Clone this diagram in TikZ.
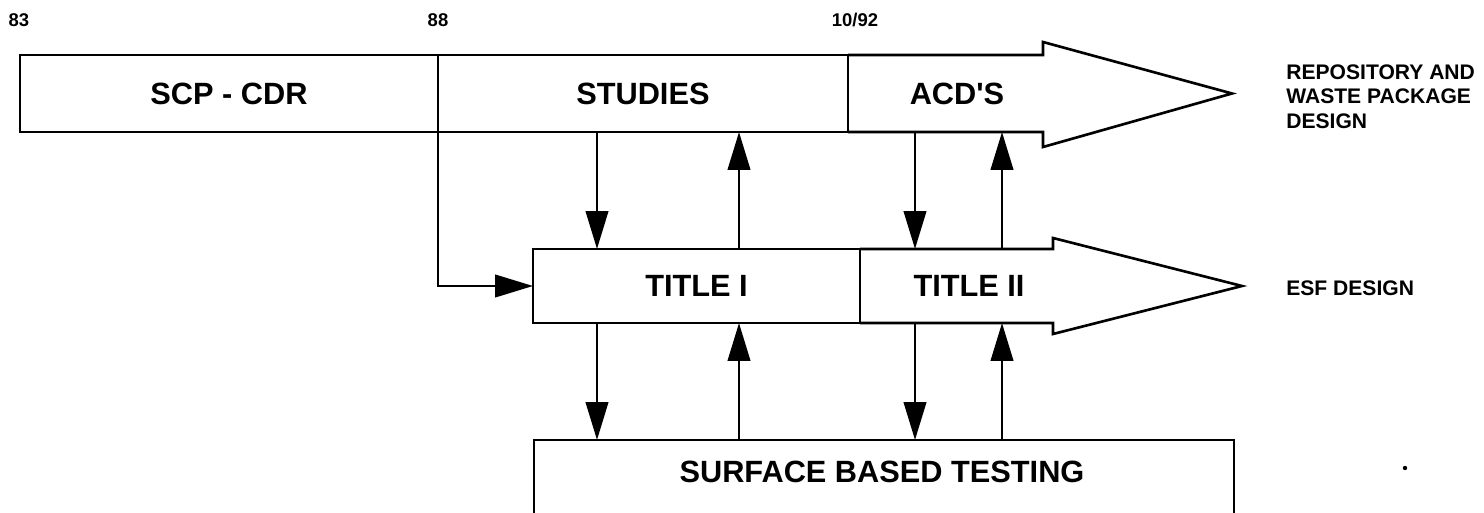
\documentclass[tikz,border=0pt]{standalone}
\usepackage{fontspec}
\setmainfont{Liberation Sans}
\usetikzlibrary{arrows.meta, positioning}

\begin{document}
\begin{tikzpicture}[x=0.02cm, y=-0.02cm, line width=1.5pt, line join=miter,
		>={Triangle[length=0.76cm, width=0.45cm]}
	]

	\tikzset{
		bar/.style={
				draw, rectangle, inner sep=0pt, outer sep=0pt, minimum height=1.54cm, font=\bfseries\fontsize{17.5}{20}\selectfont
			},
		tag/.style={
				inner sep=0pt, outer sep=0pt, font=\bfseries\fontsize{17.5}{20}\selectfont
			},
		year/.style={
				inner sep=0pt, font=\bfseries\fontsize{10.5}{12}\selectfont
			},
		side/.style={
				inner sep=0pt, anchor=west, align=left, font=\bfseries\fontsize{12}{13.9}\selectfont
			},
		flow/.style={->},
	}

	\useasboundingbox (0,0) rectangle (1484,513);

	\node[year](y1) at (19,20){83};
	\node[year](y2) at (438,20){88};
	\node[year](y3) at (855,20){10/92};

	% repository line
	\node[bar, minimum width=8.36cm](scp) at (229,93.5){SCP - CDR};
	\node[bar, minimum width=8.2cm, right=0pt of scp](stud){STUDIES};
	\node[tag, minimum height=1.54cm](acd) at (957,93.5){ACD\textquotesingle S};
	\draw (stud.north east) -- (1043,55) -- (1043,42) -- (1232,93.5) -- (1043,147) -- (1043,132) -- (stud.south east);
	\node[side](rwp) at (1285,96.5){REPOSITORY AND\\WASTE PACKAGE\\DESIGN};

	% esf line
	\node[bar, minimum width=6.54cm, minimum height=1.48cm](ti1) at (696.5,286){TITLE I};
	\node[tag, minimum height=1.48cm](ti2) at (969,286){TITLE II};
	\draw (ti1.north east) -- (1053,249) -- (1053,238) -- (1242,286) -- (1053,334) -- (1053,323) -- (ti1.south east);
	\node[side](esf) at (1285,288){ESF DESIGN};

	% testing
	\node[draw, rectangle, outer sep=0pt, minimum width=14cm, minimum height=1.8cm, anchor=north](sbt) at (884,440){};
	\node[tag](sbtl) at (882,472){SURFACE BASED TESTING};

	\coordinate (c1) at (597,0);
	\coordinate (c2) at (739,0);
	\coordinate (c3) at (915,0);
	\coordinate (c4) at (1002,0);

	\draw[flow] (scp.south east) |- (ti1.west);

	\draw[flow] (stud.south -| c1) -- (ti1.north -| c1);
	\draw[flow] (ti1.north -| c2) -- (stud.south -| c2);
	\draw[flow] (acd.south -| c3) -- (ti2.north -| c3);
	\draw[flow] (ti2.north -| c4) -- (acd.south -| c4);

	\draw[flow] (ti1.south -| c1) -- (sbt.north -| c1);
	\draw[flow] (sbt.north -| c2) -- (ti1.south -| c2);
	\draw[flow] (ti2.south -| c3) -- (sbt.north -| c3);
	\draw[flow] (sbt.north -| c4) -- (ti2.south -| c4);

	\fill (1405,468) circle (2.2);

\end{tikzpicture}
\end{document}
